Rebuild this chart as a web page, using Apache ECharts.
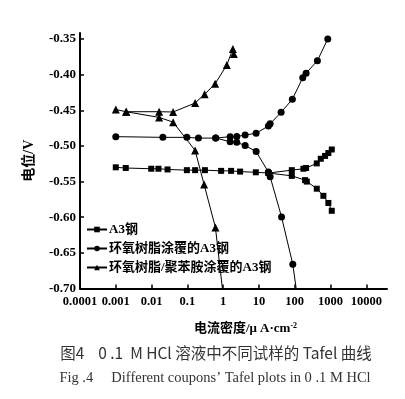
<!DOCTYPE html>
<html>
<head>
<meta charset="utf-8">
<script src="https://cdn.jsdelivr.net/npm/echarts@6/dist/echarts.min.js"></script>
<style>
html,body{margin:0;padding:0;background:#fff;}
#chart{width:405px;height:399px;}
</style>
</head>
<body>
<div id="chart"></div>
<script>
// ---- tick values / labels ----
const xTickValues = [0.0001, 0.001, 0.01, 0.1, 1, 10, 100, 1000, 10000];
const xTickLabels = ['0.0001', '0.001', '0.01', '0.1', '1', '10', '100', '1000', '10000'];
const yTickValues = [-0.70, -0.65, -0.60, -0.55, -0.50, -0.45, -0.40, -0.35];
const yTickLabels = ['-0.70', '-0.65', '-0.60', '-0.55', '-0.50', '-0.45', '-0.40', '-0.35'];

// ---- series names ----
const nameA3 = 'A3钢';
const nameEP = '环氧树脂涂覆的A3钢';
const namePN = '环氧树脂/聚苯胺涂覆的A3钢';

// ---- A3 steel (current density µA/cm2, potential V) ----
const a3Shared = [[0.001,-0.530],[0.0019,-0.531],[0.0098,-0.532],[0.0156,-0.532],[0.028,-0.533],[0.097,-0.534],[0.165,-0.534],[0.31,-0.534],[0.88,-0.535],[1.67,-0.535],[2.98,-0.536],[8.2,-0.537],[18.4,-0.538]];
const a3Anodic = [[83,-0.534],[175,-0.532],[208,-0.531],[414,-0.5245],[536,-0.518],[706,-0.514],[873,-0.510],[1087,-0.505]];
const a3Cathodic = [[83,-0.542],[195,-0.548],[218,-0.550],[414,-0.560],[634,-0.570],[873,-0.580],[1087,-0.591]];

// ---- epoxy coated A3 ----
const epShared = [[0.001,-0.487],[0.0207,-0.488],[0.097,-0.488],[0.204,-0.489],[0.62,-0.489]];
const epAnodic = [[1.57,-0.487],[2.41,-0.4868],[4.12,-0.4847],[8.35,-0.4823],[18.4,-0.472],[20.6,-0.469],[41.7,-0.4528],[86,-0.4346],[168,-0.4043],[208,-0.398],[431,-0.3804],[840,-0.350]];
const epCathodic = [[1.57,-0.494],[2.41,-0.495],[4.12,-0.4994],[8.35,-0.5078],[18.4,-0.5366],[20.6,-0.5432],[43,-0.5997],[88.5,-0.6661],[125,-0.720]];

// ---- epoxy / polyaniline coated A3 ----
const pnShared = [[0.001,-0.449],[0.00195,-0.452]];
const pnAnodic = [[0.0163,-0.452],[0.0401,-0.4524],[0.165,-0.4398],[0.304,-0.4276],[0.598,-0.4127],[1.27,-0.3865],[1.87,-0.364],[1.99,-0.371]];
const pnCathodic = [[0.0163,-0.460],[0.0401,-0.4667],[0.165,-0.5064],[0.294,-0.5541],[0.61,-0.6145],[1.06,-0.720]];

const chart = echarts.init(document.getElementById('chart'), null, {renderer: 'canvas'});

function branch(name, symbol, size, shared, part) {
  return {
    name: name,
    type: 'line',
    data: shared.concat(part),
    symbol: symbol,
    symbolSize: size,
    showAllSymbol: true,
    clip: true,
    itemStyle: {color: '#000'},
    lineStyle: {color: '#000', width: 1},
    emphasis: {disabled: true}
  };
}

const labelFont = '"Liberation Serif", "Times New Roman", serif';
const cjkFont = '"Liberation Serif", "Noto Sans CJK SC", sans-serif';

const option = {
  animation: false,
  backgroundColor: '#fff',
  grid: {left: 80, right: 18, top: 33, bottom: 110.5, containLabel: false},
  legend: {
    orient: 'vertical',
    left: 86,
    top: 223,
    padding: 0,
    itemGap: 6,
    itemWidth: 20,
    itemHeight: 7,
    textStyle: {color: '#000', fontFamily: cjkFont, fontWeight: 'bold', fontSize: 13, padding: [0, 0, 0, -3]},
    data: [nameA3, nameEP, namePN]
  },
  xAxis: {
    type: 'log',
    logBase: 10,
    min: 0.0001,
    max: 38000,
    axisLine: {show: true, onZero: false, lineStyle: {color: '#000', width: 2}},
    axisTick: {show: true, inside: true, length: 4, customValues: xTickValues, lineStyle: {color: '#000', width: 1.5}},
    axisLabel: {
      customValues: xTickValues,
      color: '#000', fontFamily: labelFont, fontWeight: 'bold', fontSize: 12.5, margin: 7,
      formatter: function (v) {
        const k = Math.round(Math.log10(v));
        if (Math.abs(Math.log10(v) - k) > 0.01) return '';
        const i = xTickValues.indexOf(Math.pow(10, k));
        return i >= 0 ? xTickLabels[i] : '';
      }
    },
    splitLine: {show: false},
    name: '电流密度/μ A·cm{s|-2}',
    nameLocation: 'middle',
    nameGap: 33,
    nameTextStyle: {
      color: '#000', fontFamily: cjkFont, fontWeight: 'bold', fontSize: 13, padding: [0, 0, 0, 24],
      rich: {s: {fontSize: 8, fontWeight: 'bold', fontFamily: labelFont, padding: [0, 0, 6, 0], color: '#000'}}
    }
  },
  yAxis: {
    type: 'value',
    min: -0.70,
    max: -0.3416,
    interval: 0.05,
    axisLine: {show: true, onZero: false, lineStyle: {color: '#000', width: 2}},
    axisTick: {show: true, inside: true, length: 4, customValues: yTickValues, lineStyle: {color: '#000', width: 1.5}},
    axisLabel: {
      customValues: yTickValues,
      color: '#000', fontFamily: labelFont, fontWeight: 'bold', fontSize: 13, margin: 4,
      formatter: function (v) {
        for (let i = 0; i < yTickValues.length; i++) {
          if (Math.abs(v - yTickValues[i]) < 1e-6) return yTickLabels[i];
        }
        return '';
      }
    },
    splitLine: {show: false},
    name: '电位/V',
    nameLocation: 'middle',
    nameGap: 44,
    nameTextStyle: {color: '#000', fontFamily: cjkFont, fontWeight: 'bold', fontSize: 14}
  },
  series: [
    branch(nameA3, 'rect', 6, a3Shared, a3Anodic),
    branch(nameA3, 'rect', 6, a3Shared.slice(-1), a3Cathodic),
    branch(nameEP, 'circle', 7, epShared, epAnodic),
    branch(nameEP, 'circle', 7, epShared.slice(-1), epCathodic),
    branch(namePN, 'triangle', 8, pnShared, pnAnodic),
    branch(namePN, 'triangle', 8, pnShared.slice(-1), pnCathodic)
  ],
  graphic: [
    {
      type: 'text', x: 216, y: 353,
      style: {
        text: '图4    0 .1  M HCl 溶液中不同试样的 Tafel 曲线',
        fill: '#333', font: '15.5px "Noto Sans CJK SC", sans-serif',
        align: 'center', verticalAlign: 'middle', textAlign: 'center', textVerticalAlign: 'middle'
      }
    },
    {
      type: 'text', x: 215, y: 378,
      style: {
        text: 'Fig .4     Different coupons’ Tafel plots in 0 .1 M HCl',
        fill: '#333', font: '14.5px "Liberation Serif", serif',
        align: 'center', verticalAlign: 'middle', textAlign: 'center', textVerticalAlign: 'middle'
      }
    }
  ]
};
chart.setOption(option);
</script>
</body>
</html>
